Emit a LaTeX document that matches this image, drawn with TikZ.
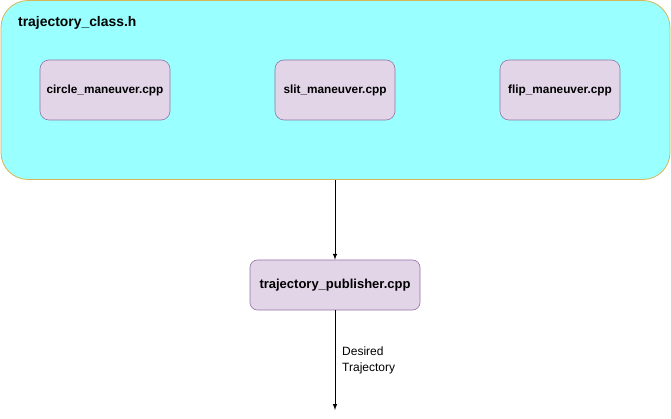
\documentclass[tikz,border=0pt]{standalone}
\usepackage{fontspec}
\setmainfont{Liberation Sans}
\definecolor{cyanfill}{HTML}{99FFFF}
\definecolor{goldline}{HTML}{D6B656}
\definecolor{lilacfill}{HTML}{E1D5E7}
\definecolor{lilacline}{HTML}{9673A6}
\tikzset{
  group/.style={draw=goldline,fill=cyanfill,rounded corners=27pt,line width=0.8pt},
  file/.style={draw=lilacline,fill=lilacfill,rounded corners=9pt,line width=0.6pt,
    font=\fontsize{11.8}{14}\selectfont\bfseries,inner sep=0pt},
  flow/.style={-latex,line width=1pt},
  lbl/.style={align=left,font=\fontsize{12}{16}\selectfont,inner sep=0pt}
}

\begin{document}
\begin{tikzpicture}[x=1pt,y=-1pt]
\useasboundingbox (0,0) rectangle (671,419);
\node[group,minimum width=669pt,minimum height=179pt] (cls) at (335.5,90) {};
\node[anchor=west,font=\fontsize{13.9}{16}\selectfont\bfseries,inner sep=0pt] (clsname) at (18,22.5) {trajectory\_class.h};
\node[file,minimum width=130pt,minimum height=60pt] (circle) at (105,90) {circle\_maneuver.cpp};
\node[file,minimum width=120pt,minimum height=60pt] (slit) at (335,90) {slit\_maneuver.cpp};
\node[file,minimum width=120pt,minimum height=60pt] (flip) at (560,90) {flip\_maneuver.cpp};
\node[file,minimum width=170pt,minimum height=50pt,rounded corners=7.5pt,font=\fontsize{13}{15}\selectfont\bfseries] (pub) at (335,285) {trajectory\_publisher.cpp};
\coordinate (out) at (335,410);
\draw[flow] (cls.south -| pub.north) -- (pub.north);
\draw[flow] (pub.south) -- (out);
\node[lbl,anchor=west] (desired) at (342,360) {Desired\\Trajectory};
\end{tikzpicture}
\end{document}
